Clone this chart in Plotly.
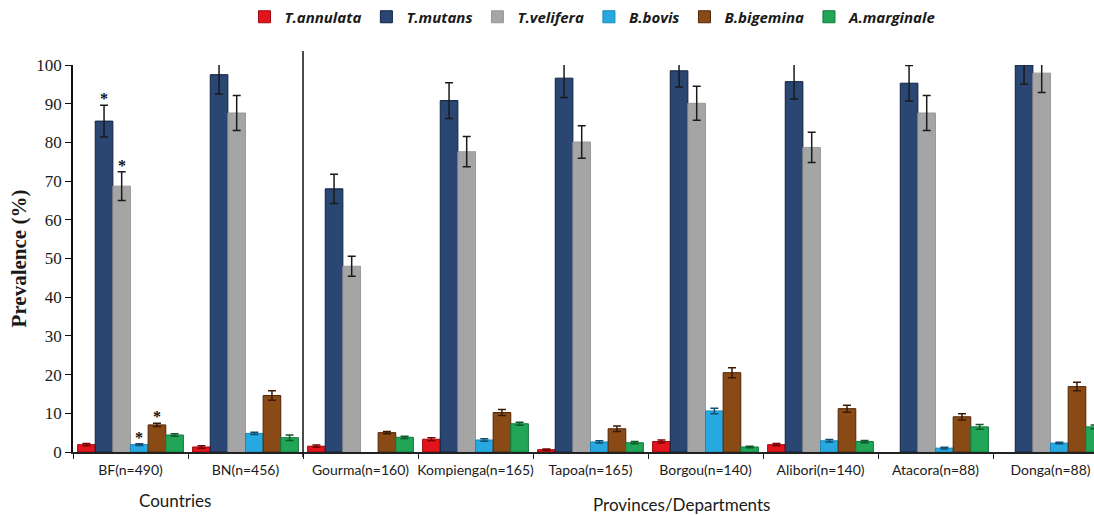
import plotly.graph_objects as go

# Sampling groups: two countries, then provinces / departments
categories = ["BF(n=490)", "BN(n=456)", "Gourma(n=160)", "Kompienga(n=165)",
              "Tapoa(n=165)", "Borgou(n=140)", "Alibori(n=140)", "Atacora(n=88)",
              "Donga(n=88)"]

# Prevalence (%) per pathogen and its error (half-width)
t_annulata = [1.9, 1.3, 1.5, 3.3, 0.6, 2.7, 1.9, None, None]
t_annulata_err = [0.3, 0.3, 0.3, 0.4, 0.2, 0.4, 0.3, None, None]
t_mutans = [85.5, 97.5, 68.0, 90.8, 96.6, 98.5, 95.7, 95.3, 100.0]
t_mutans_err = [4.1, 5.0, 3.8, 4.6, 5.0, 4.2, 4.5, 4.6, 5.0]
t_velifera = [68.7, 87.6, 48.0, 77.6, 80.1, 90.1, 78.7, 87.6, 97.9]
t_velifera_err = [3.7, 4.5, 2.6, 3.9, 4.2, 4.4, 3.9, 4.5, 5.0]
b_bovis = [1.9, 4.8, None, 3.1, 2.6, 10.6, 2.9, 1.0, 2.3]
b_bovis_err = [0.2, 0.3, None, 0.3, 0.3, 0.7, 0.3, 0.2, 0.2]
b_bigemina = [7.0, 14.6, 5.0, 10.2, 6.0, 20.5, 11.2, 9.1, 16.9]
b_bigemina_err = [0.4, 1.2, 0.3, 0.8, 0.7, 1.3, 0.9, 0.8, 1.1]
a_marginale = [4.4, 3.7, 3.8, 7.3, 2.4, 1.3, 2.7, 6.5, 6.5]
a_marginale_err = [0.3, 0.7, 0.3, 0.4, 0.3, 0.2, 0.3, 0.6, 0.5]

# Significant differences between countries (BF group): series index of starred bars
starred_series = [1, 2, 3, 4]

series = [
    ("T.annulata", t_annulata, t_annulata_err, "#E3141C", "#9E0A0F", "#7A0000"),
    ("T.mutans", t_mutans, t_mutans_err, "#2A4673", "#0F2140", "#1A1A1A"),
    ("T.velifera", t_velifera, t_velifera_err, "#A5A5A5", "#9A9A9A", "#1A1A1A"),
    ("B.bovis", b_bovis, b_bovis_err, "#27A8E0", "#1A86BA", "#0E4F75"),
    ("B.bigemina", b_bigemina, b_bigemina_err, "#8A4A16", "#4F2608", "#3A1A05"),
    ("A.marginale", a_marginale, a_marginale_err, "#21A557", "#137A3C", "#0B5A2A"),
]

fig = go.Figure()
for name, vals, errs, fill, edge, ecol in series:
    fig.add_trace(go.Bar(
        name=f"<b><i>{name}</i></b>",
        x=categories, y=vals,
        marker=dict(color=fill, line=dict(color=edge, width=1)),
        error_y=dict(type="data", array=errs, visible=True,
                     color=ecol, thickness=1.5, width=4),
    ))

bargap = 0.08
n_series = len(series)
bar_w = (1 - bargap) / n_series

annotations = []
for i in starred_series:
    name, vals, errs, *_ = series[i]
    offset = -(1 - bargap) / 2 + (i + 0.5) * bar_w
    annotations.append(dict(
        x=0 + offset, y=vals[0] + errs[0], xref="x", yref="y",
        text="<b>*</b>", showarrow=False, yanchor="bottom", yshift=-4,
        font=dict(family="Liberation Serif", size=16, color="#111111"),
    ))

# Group titles under the axis
annotations.append(dict(
    x=0.39, y=-0.125, xref="x", yref="paper", text="Countries", showarrow=False,
    yanchor="middle", font=dict(family="Lato", size=17, color="#1a1a1a"),
))
annotations.append(dict(
    x=4.79, y=-0.135, xref="x", yref="paper", text="Provinces/Departments",
    showarrow=False, yanchor="middle",
    font=dict(family="Lato", size=17, color="#1a1a1a"),
))

fig.update_layout(
    width=1094, height=515,
    margin=dict(l=73, r=0, t=61, b=63),
    paper_bgcolor="white", plot_bgcolor="white",
    barmode="group", bargap=bargap, bargroupgap=0,
    showlegend=True,
    legend=dict(
        orientation="h", x=0.168, xanchor="left", y=1.124, yanchor="middle",
        font=dict(family="Open Sans", size=15, color="#1a1a1a"),
        bgcolor="rgba(0,0,0,0)", traceorder="normal",
    ),
    annotations=annotations,
    shapes=[dict(
        type="line", xref="x", yref="paper", x0=1.5, x1=1.5, y0=-0.013, y1=1.036,
        line=dict(color="#111111", width=1.5),
    )],
)

fig.update_xaxes(
    type="category", range=[-0.5, 8.378], automargin=False,
    showline=True, linecolor="#222222", linewidth=1.5,
    ticks="outside", tickson="boundaries", ticklen=5, tickcolor="#222222",
    tickangle=0, ticklabelstandoff=4,
    tickfont=dict(family="Lato", size=14, color="#1a1a1a"),
    showgrid=False, zeroline=False,
)
fig.update_yaxes(
    range=[0, 100], dtick=10, tick0=0, automargin=False,
    showline=True, linecolor="#111111", linewidth=1.5,
    ticks="outside", ticklen=6, tickcolor="#111111",
    tickfont=dict(family="Liberation Serif", size=17, color="#1a1a1a"),
    showgrid=False, zeroline=False,
    title=dict(text="<b>Prevalence (%)</b>", standoff=4,
               font=dict(family="Liberation Serif", size=21, color="#1a1a1a")),
)

fig.write_html("out.html")
